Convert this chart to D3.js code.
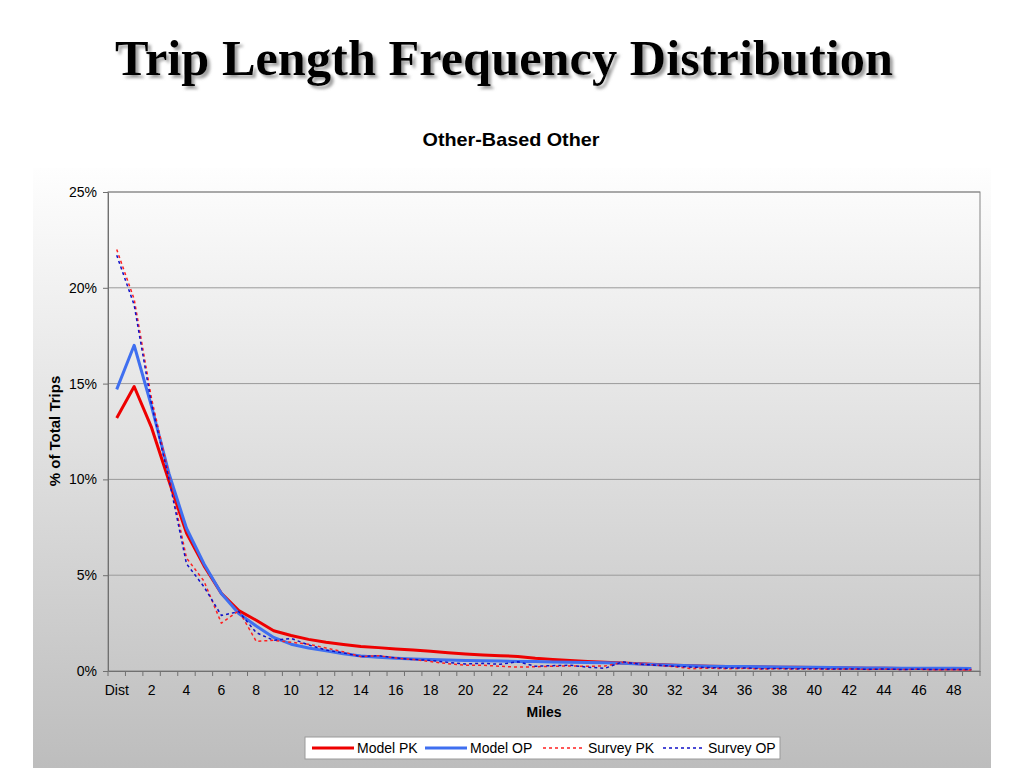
<!DOCTYPE html>
<html>
<head>
<meta charset="utf-8">
<script src="https://cdn.jsdelivr.net/npm/d3@7"></script>
<style>
  body { margin: 0; background: #ffffff; }
  text { font-family: "Liberation Sans", Arial, sans-serif; }
</style>
</head>
<body>
<div class="chart"></div>
<script>
// data (percent of total trips)
var categories = ["Dist"];
for (var i = 1; i <= 49; i++) { categories.push(String(i)); }

var modelPK = [13.2, 14.85, 12.7, 9.9, 7.2, 5.5, 4.05, 3.15, 2.65, 2.1,
  1.85, 1.65, 1.5, 1.38, 1.28, 1.22, 1.15, 1.1, 1.03, 0.95,
  0.89, 0.84, 0.8, 0.76, 0.66, 0.6, 0.55, 0.5, 0.46, 0.42,
  0.38, 0.34, 0.3, 0.27, 0.25, 0.23, 0.22, 0.21, 0.2, 0.19,
  0.18, 0.17, 0.16, 0.15, 0.14, 0.13, 0.13, 0.12, 0.12, 0.11];

var modelOP = [14.7, 17.0, 13.8, 10.3, 7.45, 5.6, 4.05, 3.0, 2.35, 1.75,
  1.4, 1.2, 1.05, 0.9, 0.78, 0.72, 0.67, 0.63, 0.6, 0.57,
  0.55, 0.53, 0.52, 0.5, 0.49, 0.47, 0.46, 0.44, 0.43, 0.4,
  0.37, 0.33, 0.3, 0.27, 0.25, 0.24, 0.23, 0.22, 0.21, 0.2,
  0.19, 0.18, 0.17, 0.16, 0.16, 0.15, 0.15, 0.14, 0.14, 0.13];

var surveyPK = [22.0, 19.4, 14.2, 10.2, 5.9, 4.7, 2.5, 3.15, 1.55, 1.6,
  1.5, 1.4, 1.2, 1.0, 0.75, 0.8, 0.68, 0.6, 0.49, 0.38,
  0.3, 0.3, 0.25, 0.2, 0.22, 0.25, 0.26, 0.25, 0.26, 0.45,
  0.37, 0.3, 0.22, 0.12, 0.15, 0.12, 0.14, 0.1, 0.12, 0.1,
  0.11, 0.09, 0.12, 0.08, 0.1, 0.08, 0.09, 0.07, 0.08, 0.06];

var surveyOP = [21.7, 19.1, 13.9, 10.0, 5.6, 4.4, 2.9, 3.1, 2.0, 1.6,
  1.7, 1.36, 1.1, 0.95, 0.75, 0.8, 0.68, 0.6, 0.55, 0.45,
  0.37, 0.4, 0.35, 0.48, 0.25, 0.28, 0.3, 0.2, 0.14, 0.48,
  0.35, 0.3, 0.25, 0.2, 0.18, 0.15, 0.16, 0.12, 0.13, 0.11,
  0.12, 0.1, 0.11, 0.09, 0.1, 0.08, 0.09, 0.08, 0.08, 0.07];

var yTicks = [0, 5, 10, 15, 20, 25];

var series = [
  {name: "Model PK", values: modelPK, color: "#ee0000", width: 3, dash: null},
  {name: "Model OP", values: modelOP, color: "#3f6ff0", width: 3, dash: null},
  {name: "Survey PK", values: surveyPK, color: "#ff2020", width: 1.5, dash: "3,3"},
  {name: "Survey OP", values: surveyOP, color: "#1010c8", width: 1.5, dash: "3,3"}
];

var W = 1024, H = 768;
var margin = {top: 192, right: 44, bottom: 97, left: 108},
    width = W - margin.left - margin.right,
    height = H - margin.top - margin.bottom;

var svg = d3.select(".chart")
  .append("svg")
    .attr("width", W)
    .attr("height", H);

var defs = svg.append("defs");
var g1 = defs.append("linearGradient").attr("id", "panelGrad")
  .attr("x1", 0).attr("y1", 0).attr("x2", 0).attr("y2", 1);
g1.append("stop").attr("offset", "0%").attr("stop-color", "#fefefe");
g1.append("stop").attr("offset", "100%").attr("stop-color", "#bdbdbd");

var g2 = defs.append("linearGradient").attr("id", "plotGrad")
  .attr("x1", 0).attr("y1", 0).attr("x2", 0).attr("y2", 1);
g2.append("stop").attr("offset", "0%").attr("stop-color", "#fbfbfb");
g2.append("stop").attr("offset", "100%").attr("stop-color", "#c8c8c8");

var shadow = defs.append("filter").attr("id", "shadow")
  .attr("x", "-5%").attr("y", "-20%").attr("width", "110%").attr("height", "150%");
shadow.append("feDropShadow").attr("dx", 3).attr("dy", 3)
  .attr("stdDeviation", 1.5).attr("flood-color", "#888").attr("flood-opacity", 0.8);

// slide title
svg.append("text")
  .attr("x", 504).attr("y", 75)
  .attr("text-anchor", "middle")
  .attr("textLength", 778)
  .attr("lengthAdjust", "spacingAndGlyphs")
  .attr("filter", "url(#shadow)")
  .style("font-family", "'Liberation Serif', 'DejaVu Serif', serif")
  .style("font-weight", "bold")
  .style("font-size", "50px")
  .text("Trip Length Frequency Distribution");

svg.append("text")
  .attr("x", 511).attr("y", 146)
  .attr("text-anchor", "middle")
  .attr("textLength", 177)
  .attr("lengthAdjust", "spacingAndGlyphs")
  .style("font-weight", "bold")
  .style("font-size", "19px")
  .text("Other-Based Other");

// chart panel
svg.append("rect")
  .attr("x", 33).attr("y", 168)
  .attr("width", 958).attr("height", 600)
  .attr("fill", "url(#panelGrad)");

var chart = svg.append("g")
  .attr("transform", "translate(" + margin.left + "," + margin.top + ")");

chart.append("rect")
  .attr("width", width).attr("height", height)
  .attr("fill", "url(#plotGrad)");

// scales
var x = d3.scaleBand()
  .domain(categories)
  .range([0, width]);

var y = d3.scaleLinear()
  .domain([0, 25])
  .range([height, 0]);

// gridlines
chart.append("g")
  .selectAll("line")
  .data(yTicks.slice(1))
  .enter().append("line")
    .attr("x1", 0).attr("x2", width)
    .attr("y1", function(d) { return y(d); })
    .attr("y2", function(d) { return y(d); })
    .attr("stroke", "#9a9a9a")
    .attr("stroke-width", 1);

// plot border
chart.append("rect")
  .attr("width", width).attr("height", height)
  .attr("fill", "none")
  .attr("stroke", "#858585")
  .attr("stroke-width", 1);

// y axis
var yAxis = chart.append("g")
  .call(d3.axisLeft(y).tickValues(yTicks).tickSize(5).tickSizeOuter(0)
    .tickFormat(function(d) { return d + "%"; }));
yAxis.select(".domain").attr("stroke", "#707070");
yAxis.selectAll(".tick line").attr("stroke", "#707070");
yAxis.selectAll("text")
  .attr("x", -11)
  .style("font-size", "14px")
  .attr("fill", "#000");

// x axis: tick marks sit between categories, labels on every other one
var xAxis = chart.append("g")
  .attr("transform", "translate(0," + height + ")")
  .call(d3.axisBottom(x).tickSize(0).tickSizeOuter(0)
    .tickFormat(function(d, i) { return i % 2 === 0 ? d : ""; }));
xAxis.select(".domain").attr("stroke", "#707070");
xAxis.selectAll("text")
  .attr("y", 14)
  .style("font-size", "14px")
  .attr("fill", "#000");
xAxis.selectAll(".sep")
  .data(categories.concat(["end"]))
  .enter().append("line")
    .attr("class", "sep")
    .attr("x1", function(d, i) { return i * x.bandwidth(); })
    .attr("x2", function(d, i) { return i * x.bandwidth(); })
    .attr("y1", 0).attr("y2", 5)
    .attr("stroke", "#707070");

// axis titles
svg.append("text")
  .attr("x", 544).attr("y", 717)
  .attr("text-anchor", "middle")
  .style("font-weight", "bold")
  .style("font-size", "14px")
  .text("Miles");

svg.append("text")
  .attr("transform", "translate(60,431) rotate(-90)")
  .attr("text-anchor", "middle")
  .style("font-weight", "bold")
  .style("font-size", "15px")
  .text("% of Total Trips");

// lines
var line = d3.line()
  .x(function(d, i) { return x(categories[i]) + x.bandwidth() / 2; })
  .y(function(d) { return y(d); });

chart.append("g")
  .selectAll("path")
  .data(series)
  .enter().append("path")
    .attr("d", function(d) { return line(d.values); })
    .attr("fill", "none")
    .attr("stroke", function(d) { return d.color; })
    .attr("stroke-width", function(d) { return d.width; })
    .attr("stroke-dasharray", function(d) { return d.dash; })
    .attr("stroke-linejoin", "round");

// legend
var legend = svg.append("g").attr("transform", "translate(305,737)");
legend.append("rect")
  .attr("width", 475).attr("height", 22)
  .attr("fill", "#fff")
  .attr("stroke", "#9a9a9a");

var legendX = [7, 120, 238, 358];
var item = legend.selectAll(".item")
  .data(series)
  .enter().append("g")
    .attr("class", "item")
    .attr("transform", function(d, i) { return "translate(" + legendX[i] + ",0)"; });
item.append("line")
  .attr("x1", 0).attr("x2", 42)
  .attr("y1", 11).attr("y2", 11)
  .attr("stroke", function(d) { return d.color; })
  .attr("stroke-width", function(d) { return d.width; })
  .attr("stroke-dasharray", function(d) { return d.dash; });
item.append("text")
  .attr("x", 45).attr("y", 16)
  .style("font-size", "14px")
  .text(function(d) { return d.name; });
</script>
</body>
</html>
